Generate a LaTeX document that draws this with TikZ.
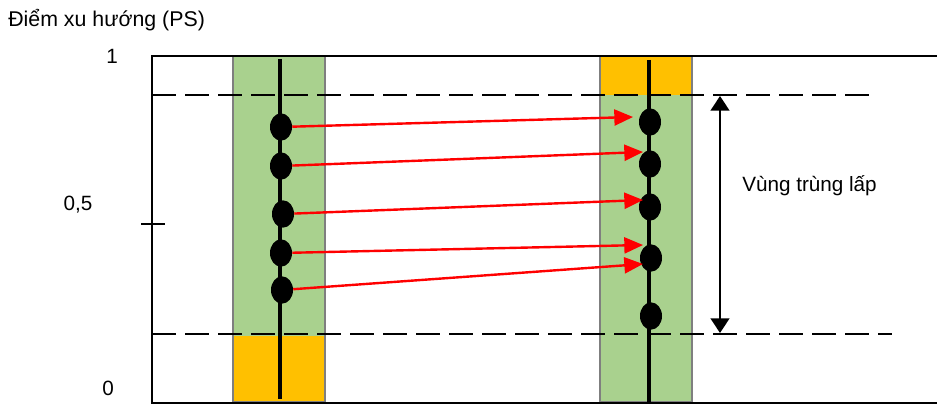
\documentclass[tikz,border=0pt]{standalone}
\usepackage{fontspec}
\setmainfont{Liberation Sans}
\usetikzlibrary{shapes.geometric,arrows.meta}
\definecolor{psgreen}{HTML}{A9D18E}
\definecolor{psorange}{HTML}{FFC000}
\definecolor{psborder}{HTML}{7F7F7F}
\definecolor{psred}{HTML}{FF0000}
\begin{document}
\begin{tikzpicture}[x=0.75pt,y=-0.75pt,
  frame/.style={line width=2pt},
  band/.style={draw=psborder, line width=1pt},
  guide/.style={line width=1.8pt, dash pattern=on 18pt off 6.75pt},
  stem/.style={line width=3.4pt},
  score/.style={ellipse, fill=black, minimum width=16.5pt, minimum height=20.5pt, inner sep=0pt},
  match/.style={draw=psred, line width=1.8pt, -{Triangle[length=14pt,width=12pt]}},
  span/.style={line width=1.8pt, {Triangle[length=11pt,width=14pt]}-{Triangle[length=11pt,width=14pt]}},
  lbl/.style={font=\fontsize{15.5}{18}\selectfont, inner sep=0pt}]
\useasboundingbox (0,0) rectangle (937,406);

% treated group column
\fill[psgreen] (233,56) rectangle (325,336);
\fill[psorange] (233,336) rectangle (325,402);
\draw[band] (233,56) rectangle (325,402);

% control group column
\fill[psorange] (600,56) rectangle (692,95);
\fill[psgreen] (600,95) rectangle (692,402);
\draw[band] (600,56) rectangle (692,402);

% overlap limits
\coordinate (upA) at (152,95);
\coordinate (upB) at (876,95);
\coordinate (loA) at (152,334);
\coordinate (loB) at (892,334);
\draw[guide] (upA) -- (upB);
\draw[guide] (loA) -- (loB);

% axis frame
\coordinate (ax0) at (152,403);
\coordinate (ax1) at (152,56);
\coordinate (topR) at (937,56);
\coordinate (botR) at (937,403);
\draw[frame] (topR) -- (ax1) -- (ax0) -- (botR);
\coordinate (tkA) at (141,224);
\coordinate (tkB) at (165,224);
\draw[frame] (tkA) -- (tkB);

% axis labels
\node[anchor=west, font=\fontsize{16}{19}\selectfont, inner sep=0pt] (title) at (8,20) {Điểm xu hướng (PS)};
\node[lbl] (v1) at (112,56) {1};
\node[lbl] (vh) at (78,205) {0,5};
\node[lbl] (v0) at (108,388) {0};

% stems
\coordinate (lsT) at (280,59);
\coordinate (lsB) at (280,399);
\coordinate (rsT) at (649,60);
\coordinate (rsB) at (649,402);
\draw[stem] (lsT) -- (lsB);
\draw[stem] (rsT) -- (rsB);

% scores of treated units
\node[score] (l1) at (281,127) {};
\node[score] (l2) at (281,166) {};
\node[score] (l3) at (283,214) {};
\node[score] (l4) at (281,253) {};
\node[score] (l5) at (282,290) {};

% scores of control units
\node[score] (r1) at (650,122) {};
\node[score] (r2) at (650,164) {};
\node[score] (r3) at (650,207) {};
\node[score] (r4) at (651,258) {};
\node[score] (r5) at (651,316) {};

% matching arrows
\coordinate (t1) at (633,117);
\coordinate (t2) at (643,152);
\coordinate (t3) at (643,200);
\coordinate (t4) at (643,245);
\coordinate (t5) at (643,264);
\draw[match] (l1) -- (t1);
\draw[match] (l2) -- (t2);
\draw[match] (l3) -- (t3);
\draw[match] (l4) -- (t4);
\draw[match] (l5) -- (t5);

% overlap span
\coordinate (spT) at (720,96);
\coordinate (spB) at (720,333);
\draw[span] (spT) -- (spB);
\node[lbl, anchor=west] (ovl) at (742,186) {Vùng trùng lấp};
\end{tikzpicture}
\end{document}
